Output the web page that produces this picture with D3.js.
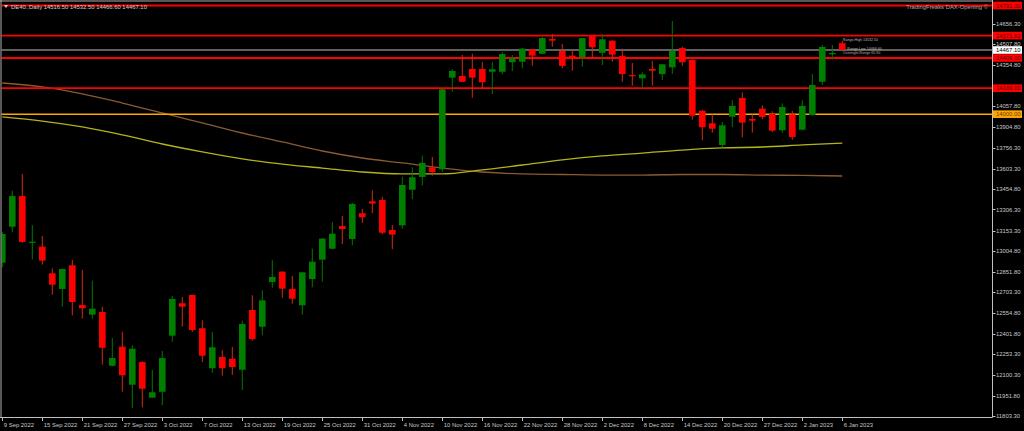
<!DOCTYPE html>
<html><head><meta charset="utf-8">
<script src="https://cdn.jsdelivr.net/npm/d3@7"></script>
<style>html,body{margin:0;padding:0;background:#000;overflow:hidden}</style>
</head><body><svg id="c" width="1024" height="431"></svg>
<script>
// ---------- DATA ----------
const dates = [
 "2022-09-09","2022-09-12","2022-09-13","2022-09-14","2022-09-15","2022-09-16","2022-09-19","2022-09-20","2022-09-21","2022-09-22",
 "2022-09-23","2022-09-26","2022-09-27","2022-09-28","2022-09-29","2022-09-30","2022-10-03","2022-10-04","2022-10-05","2022-10-06",
 "2022-10-07","2022-10-10","2022-10-11","2022-10-12","2022-10-13","2022-10-14","2022-10-17","2022-10-18","2022-10-19","2022-10-20",
 "2022-10-21","2022-10-24","2022-10-25","2022-10-26","2022-10-27","2022-10-28","2022-10-31","2022-11-01","2022-11-02","2022-11-03",
 "2022-11-04","2022-11-07","2022-11-08","2022-11-09","2022-11-10","2022-11-11","2022-11-14","2022-11-15","2022-11-16","2022-11-17",
 "2022-11-18","2022-11-21","2022-11-22","2022-11-23","2022-11-24","2022-11-25","2022-11-28","2022-11-29","2022-11-30","2022-12-01",
 "2022-12-02","2022-12-05","2022-12-06","2022-12-07","2022-12-08","2022-12-09","2022-12-12","2022-12-13","2022-12-14","2022-12-15",
 "2022-12-16","2022-12-19","2022-12-20","2022-12-21","2022-12-22","2022-12-23","2022-12-27","2022-12-28","2022-12-29","2022-12-30",
 "2023-01-02","2023-01-03","2023-01-04","2023-01-05","2023-01-06"];
const open  = [12919,13181,13404,13068,13036,12842,12728,12900,12611,12541,12560,12169,12308,12031,12196,11937,11980,12388,12624,12684,
 12442,12151,12233,12220,12140,12575,12453,12779,12854,12728,12609,12800,12941,13021,13186,13092,13279,13366,13375,13157,
 13191,13450,13543,13613,13599,14266,14278,14329,14329,14309,14309,14378,14382,14472,14440,14547,14460,14426,14414,14569,
 14447,14535,14423,14285,14261,14329,14292,14341,14482,14394,14025,13934,13776,13982,14118,13965,14040,14001,13883,13999,
 13887,13994,14236,14436,14516.5];
const high  = [13142,13443,13565,13193,13113,12878,12875,12939,12866,12788,12597,12371,12417,12318,12201,12138,12276,12677,12669,12686,
 12500,12415,12282,12306,12497,12682,12718,12937,12856,12822,12851,13021,13099,13215,13259,13354,13310,13446,13399,13193,
 13545,13613,13698,13688,14183,14327,14431,14440,14380,14380,14453,14431,14482,14474,14560,14584,14511,14467,14556,14571,
 14584,14537,14477,14373,14305,14387,14365,14678,14491,14396,14030,13999,13943,14103,14159,13999,14065,14021,14079,14023,
 14101,14292,14504,14504,14532.5];
const low   = [12886,13140,13065,12944,12905,12686,12599,12536,12512,12512,12177,12165,11980,11862,11867,11935,11883,12344,12453,12415,
 12196,12118,12097,12102,11993,12351,12391,12737,12664,12621,12541,12740,12781,13018,13055,13046,13210,13279,13128,13017,
 13167,13381,13482,13552,13581,14164,14234,14120,14188,14147,14292,14314,14334,14353,14438,14491,14334,14316,14346,14411,
 14358,14382,14236,14207,14193,14207,14249,14292,14353,13960,13810,13865,13761,13907,13832,13865,13963,13870,13863,13814,
 13885,13989,14212,14397,14466.6];
const close = [13128,13404,13070,13072,12934,12759,12873,12633,12587,12584,12300,12225,12100,12293,12002,11976,12225,12655,12599,12429,
 12242,12303,12151,12160,12473,12364,12645,12815,12730,12657,12849,12926,13094,13130,13164,13346,13250,13349,13137,13123,
 13485,13541,13645,13579,14181,14314,14236,14266,14232,14327,14438,14407,14477,14426,14554,14535,14351,14409,14554,14487,
 14545,14433,14292,14276,14290,14316,14363,14460,14378,13989,13905,13894,13919,14060,13938,13953,13980,13880,14052,13834,
 14060,14212,14489,14445,14467.1];

// moving averages, read at every 4th bar
const maBarIndex = [0,4,8,12,16,20,24,28,32,36,40,44,48,52,56,60,64,68,72,76,80,84];
const maYellow = [13980,13950,13907,13849,13783,13725,13674,13637,13608,13579,13565,13565,13594,13630,13667,13696,13717,13739,13754,13761,13776,13790];
const maBrown  = [14227,14198,14147,14081,14009,13936,13863,13798,13732,13681,13645,13608,13579,13565,13561,13557,13557,13561,13561,13557,13554,13550];

const priceTicks = [14656.30,14507.80,14354.80,14206.30,14057.80,13904.80,13756.30,13603.30,13454.80,13306.30,13153.30,13004.80,
 12851.80,12703.30,12554.80,12401.80,12253.30,12100.30,11951.80,11803.30];
const dateTickIndex = [0,4,8,12,16,20,24,28,32,36,40,44,48,52,56,60,64,68,72,76,80,84];
const dateTickLabels = ["9 Sep 2022","15 Sep 2022","21 Sep 2022","27 Sep 2022","3 Oct 2022","7 Oct 2022","13 Oct 2022","19 Oct 2022",
 "25 Oct 2022","31 Oct 2022","4 Nov 2022","10 Nov 2022","16 Nov 2022","22 Nov 2022","28 Nov 2022","2 Dec 2022","8 Dec 2022",
 "14 Dec 2022","20 Dec 2022","27 Dec 2022","2 Jan 2023","6 Jan 2023"];
const redLevels = [14791.00, 14571.82, 14409.00, 14189.00];
const currentPrice = 14467.10;
const orangeLevel = 14000.00;
const header = "DE40.,Daily  14516.50 14532.50 14466.60 14467.10";
const brand = "TradingFreaks DAX-Opening \u00A9";
const noteTexts = ["Range-High 14532.50", "Range-Low 14466.60", "Overnight-Range 65.90"];
const noteValues = [14540, 14474, 14448];

// ---------- DRAW ----------
const W = 1024, H = 431;
const plotR = 992.5, plotB = 417.5;
const svg = d3.select("#c");
const FONT = "'Liberation Sans', Arial, sans-serif";

const y = d3.scaleLinear().domain([11803.3, 14656.3]).range([416, 24]);
const x = d3.scalePoint().domain(dates).range([2.3, 842.3]);

svg.append("rect").attr("width", W).attr("height", H).attr("fill", "#000");

const defs = svg.append("defs");
defs.append("clipPath").attr("id", "clip").append("rect")
  .attr("x", 1.5).attr("y", 1.5).attr("width", plotR - 1.5).attr("height", plotB - 1.5);
const plot = svg.append("g").attr("clip-path", "url(#clip)");

// moving averages
const maLine = d3.line().x(d => x(dates[d[0]])).y(d => y(d[1])).curve(d3.curveMonotoneX);
plot.append("path").datum(maBarIndex.map((b, i) => [b, maBrown[i]]))
  .attr("d", maLine).attr("fill", "none").attr("stroke", "#8a5a30").attr("stroke-width", 1.3);
plot.append("path").datum(maBarIndex.map((b, i) => [b, maYellow[i]]))
  .attr("d", maLine).attr("fill", "none").attr("stroke", "#b4b418").attr("stroke-width", 1.3);

// horizontal levels
plot.append("line").attr("x1", 0).attr("x2", plotR).attr("y1", y(orangeLevel)).attr("y2", y(orangeLevel))
  .attr("stroke", "#ffa500").attr("stroke-width", 1.6);
plot.append("line").attr("x1", 0).attr("x2", plotR).attr("y1", y(currentPrice)).attr("y2", y(currentPrice))
  .attr("stroke", "#808080").attr("stroke-width", 1.5);
plot.selectAll(".lvl").data(redLevels).enter().append("line")
  .attr("x1", 0).attr("x2", plotR).attr("y1", d => y(d)).attr("y2", d => y(d))
  .attr("stroke", "#ff0000").attr("stroke-width", 1.8);

// candles
const bw = 6.6;
const bars = plot.selectAll(".c").data(dates.map((d, i) => i)).enter().append("g");
bars.append("line")
  .attr("x1", i => x(dates[i])).attr("x2", i => x(dates[i]))
  .attr("y1", i => y(high[i])).attr("y2", i => y(low[i]))
  .attr("stroke", i => close[i] >= open[i] ? "#007a00" : "#d82a10").attr("stroke-width", 1);
bars.append("rect")
  .attr("x", i => x(dates[i]) - bw / 2)
  .attr("y", i => y(Math.max(open[i], close[i])))
  .attr("width", bw)
  .attr("height", i => Math.max(1.2, Math.abs(y(open[i]) - y(close[i]))))
  .attr("fill", i => close[i] >= open[i] ? "#008000" : "#ff0000");

// tiny notes next to last bar
const lastX = x(dates[dates.length - 1]);
plot.selectAll(".note").data(noteTexts).enter().append("text")
  .attr("x", (d, k) => lastX + (k === 1 ? 5 : 0.5)).attr("y", (d, k) => y(noteValues[k])).attr("dy", "0.35em")
  .attr("font-family", FONT).attr("font-size", 3.6)
  .attr("fill", (d, k) => k === 2 ? "#c8a0a8" : "#b8b8b8")
  .text(d => d);

// frame
svg.append("line").attr("x1", 1).attr("x2", 1).attr("y1", 0).attr("y2", plotB).attr("stroke", "#b0b0b0").attr("stroke-width", 1);
svg.append("line").attr("x1", 0).attr("x2", plotR).attr("y1", 1).attr("y2", 1).attr("stroke", "#b0b0b0").attr("stroke-width", 1);
svg.append("line").attr("x1", plotR).attr("x2", plotR).attr("y1", 0).attr("y2", plotB).attr("stroke", "#c0c0c0").attr("stroke-width", 1);
svg.append("line").attr("x1", 0).attr("x2", plotR).attr("y1", plotB).attr("y2", plotB).attr("stroke", "#c0c0c0").attr("stroke-width", 1);

// right axis (the 14206.30 label is hidden behind the 14189.00 tag in the original)
const hidden = v => redLevels.concat([orangeLevel]).some(l => Math.abs(y(l) - y(v)) < 5);
const ra = svg.append("g");
ra.selectAll("line").data(priceTicks).enter().append("line")
  .attr("x1", plotR).attr("x2", plotR + 3).attr("y1", d => Math.round(y(d)) + 0.5).attr("y2", d => Math.round(y(d)) + 0.5)
  .attr("stroke", "#c0c0c0");
ra.selectAll("text").data(priceTicks.filter(v => !hidden(v))).enter().append("text")
  .attr("x", 996).attr("y", d => y(d)).attr("dy", "0.35em")
  .attr("font-family", FONT).attr("font-size", 5.9).attr("fill", "#c8c8c8")
  .text(d => d.toFixed(2));

// price labels on axis
function tag(v, bg, fg) {
  const g = svg.append("g");
  g.append("rect").attr("x", 993).attr("y", y(v) - 3.8).attr("width", 29).attr("height", 7.6).attr("fill", bg);
  g.append("text").attr("x", 996).attr("y", y(v)).attr("dy", "0.35em")
    .attr("font-family", FONT).attr("font-size", 5.9).attr("fill", fg).text(v.toFixed(2));
}
redLevels.forEach(v => tag(v, "#ff0000", "#600000"));
tag(orangeLevel, "#ffa500", "#604000");
tag(currentPrice, "#ffffff", "#000000");

// bottom axis
const ba = svg.append("g");
ba.selectAll("line").data(dateTickIndex).enter().append("line")
  .attr("x1", i => Math.round(x(dates[i])) + 0.5).attr("x2", i => Math.round(x(dates[i])) + 0.5)
  .attr("y1", plotB).attr("y2", plotB + 3.5).attr("stroke", "#c0c0c0");
ba.selectAll("text").data(dateTickIndex).enter().append("text")
  .attr("x", i => x(dates[i]) + 1.5).attr("y", 426.5)
  .attr("font-family", FONT).attr("font-size", 5.9).attr("fill", "#c8c8c8")
  .text((d, k) => dateTickLabels[k]);

// header + brand
svg.append("path").attr("d", "M4,5 L8,5 L6,8 Z").attr("fill", "#d0d0d0");
svg.append("text").attr("x", 11).attr("y", 6.5).attr("dy", "0.35em")
  .attr("font-family", FONT).attr("font-size", 5.9).attr("fill", "#d0d0d0").text(header);
svg.append("text").attr("x", 988).attr("y", 7).attr("dy", "0.35em").attr("text-anchor", "end")
  .attr("font-family", FONT).attr("font-size", 5.9).attr("fill", "#a8a8a8").text(brand);
</script>
</body></html>
